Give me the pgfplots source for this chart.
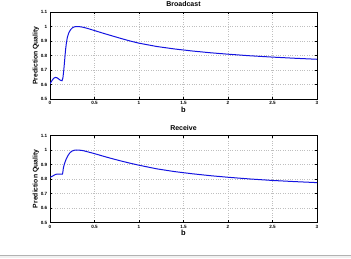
\documentclass[border=0pt]{standalone}
\usepackage{pgfplots}
\pgfplotsset{compat=1.18}
\usepackage{fontspec}
\setmainfont{Liberation Sans}

\pgfplotstableread{
b     q
0     0.605
0.02  0.625
0.04  0.642
0.06  0.649
0.08  0.646
0.10  0.637
0.12  0.628
0.135 0.626
0.145 0.645
0.155 0.700
0.165 0.770
0.175 0.840
0.185 0.890
0.195 0.925
0.21  0.955
0.23  0.977
0.25  0.990
0.27  0.997
0.30  1.000
0.33  0.999
0.37  0.995
0.42  0.987
0.50  0.972
0.60  0.953
0.70  0.935
0.80  0.917
0.90  0.900
1.00  0.885
1.20  0.862
1.40  0.845
1.60  0.831
1.80  0.819
2.00  0.809
2.25  0.798
2.50  0.789
2.75  0.781
3.00  0.774
}\broadcast

\pgfplotstableread{
b     q
0     0.812
0.02  0.817
0.04  0.824
0.06  0.831
0.08  0.834
0.10  0.834
0.12  0.833
0.14  0.834
0.145 0.850
0.15  0.875
0.16  0.900
0.17  0.918
0.18  0.935
0.20  0.960
0.22  0.978
0.24  0.990
0.27  0.998
0.30  1.000
0.33  0.999
0.37  0.996
0.42  0.988
0.50  0.975
0.60  0.957
0.70  0.940
0.80  0.924
0.90  0.909
1.00  0.895
1.20  0.870
1.40  0.851
1.60  0.836
1.80  0.823
2.00  0.812
2.25  0.800
2.50  0.790
2.75  0.782
3.00  0.775
}\receive

\definecolor{curveblue}{RGB}{20,20,225}

\pgfplotsset{
  qualstyle/.style={
    scale only axis,
    width=267pt, height=87pt,
    xmin=0, xmax=3, ymin=0.5, ymax=1.1,
    xtick={0,0.5,...,3},
    ytick={0.5,0.6,...,1.1},
    grid=major,
    major grid style={gray!50, dotted, line width=0.35pt},
    tick align=inside,
    xtick pos=both, ytick pos=both,
    major tick length=2.2pt,
    tick style={black, line width=0.3pt},
    axis line style={black, line width=0.5pt},
    tick label style={font=\bfseries\fontsize{4.6}{5}\selectfont},
    /pgf/number format/assume math mode=true,
    /pgf/number format/.cd, fixed, /pgfplots/.cd,
    xticklabel style={yshift=0.8pt},
    yticklabel style={xshift=0.8pt},
    xlabel={b},
    xlabel style={font=\bfseries\fontsize{7.5}{8}\selectfont, yshift=5pt},
    ylabel={Prediction Quality},
    ylabel style={font=\bfseries\fontsize{6.8}{7}\selectfont, yshift=-5pt},
    title style={font=\bfseries\fontsize{7}{8}\selectfont, yshift=-4.3pt},
  }
}

\begin{document}
\begin{tikzpicture}
  \useasboundingbox (0pt,0pt) rectangle (351pt,258pt);
  % separator rule at the foot of the figure
  \fill[gray!12] (0pt,0pt) rectangle (351pt,2.6pt);
  \draw[gray!60, line width=1pt] (0pt,3pt) -- (351pt,3pt);

  \begin{axis}[qualstyle, at={(50pt,159pt)}, anchor=south west, title={Broadcast}]
    \addplot[curveblue, line width=1pt] table[x=b, y=q] {\broadcast};
  \end{axis}

  \begin{axis}[qualstyle, at={(50pt,35.5pt)}, anchor=south west, title={Receive}]
    \addplot[curveblue, line width=1pt] table[x=b, y=q] {\receive};
  \end{axis}
\end{tikzpicture}
\end{document}
